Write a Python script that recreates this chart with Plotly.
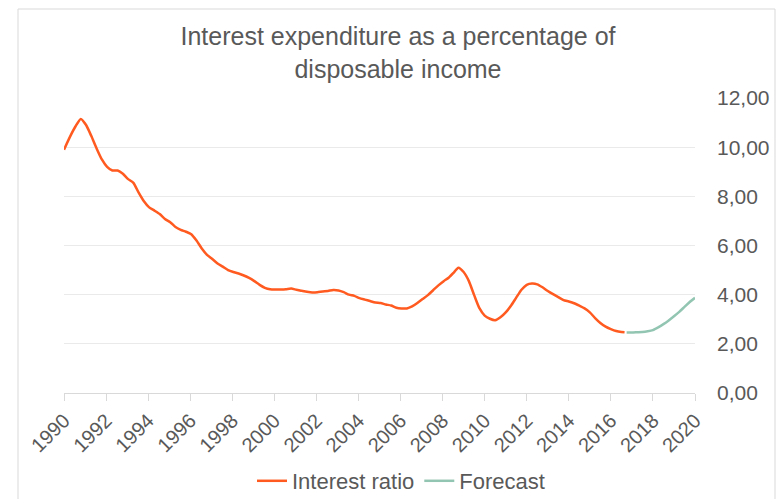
import plotly.graph_objects as go

years_hist = [1990.0, 1990.3, 1990.55, 1990.8, 1991.05, 1991.3, 1991.55, 1991.8, 1992.05, 1992.3,
              1992.55, 1992.8, 1993.05, 1993.3, 1993.55, 1993.8, 1994.05, 1994.3, 1994.55, 1994.8,
              1995.05, 1995.3, 1995.55, 1995.8, 1996.05, 1996.3, 1996.55, 1996.8, 1997.05, 1997.3,
              1997.55, 1997.8, 1998.05, 1998.3, 1998.55, 1998.8, 1999.05, 1999.3, 1999.55, 1999.8,
              2000.05, 2000.3, 2000.55, 2000.8, 2001.05, 2001.3, 2001.55, 2001.8, 2002.05, 2002.3,
              2002.55, 2002.8, 2003.05, 2003.3, 2003.55, 2003.8, 2004.05, 2004.3, 2004.55, 2004.8,
              2005.05, 2005.3, 2005.55, 2005.8, 2006.05, 2006.3, 2006.55, 2006.8, 2007.05, 2007.3,
              2007.55, 2007.8, 2008.05, 2008.3, 2008.55, 2008.75, 2009.0, 2009.25, 2009.5, 2009.75,
              2010.0, 2010.25, 2010.5, 2010.75, 2011.0, 2011.25, 2011.5, 2011.75, 2012.0, 2012.25,
              2012.5, 2012.75, 2013.0, 2013.25, 2013.5, 2013.75, 2014.0, 2014.25, 2014.5, 2014.75,
              2015.0, 2015.25, 2015.5, 2015.75, 2016.0, 2016.25, 2016.5, 2016.65]
interest_ratio = [9.9, 10.45, 10.85, 11.15, 10.9, 10.45, 9.95, 9.5, 9.2, 9.05,
                  9.05, 8.92, 8.7, 8.55, 8.15, 7.8, 7.55, 7.42, 7.28, 7.08,
                  6.95, 6.75, 6.64, 6.56, 6.46, 6.2, 5.88, 5.62, 5.45, 5.27,
                  5.14, 5.0, 4.92, 4.86, 4.78, 4.68, 4.55, 4.4, 4.28, 4.22,
                  4.21, 4.21, 4.22, 4.25, 4.2, 4.16, 4.12, 4.09, 4.1, 4.13,
                  4.15, 4.19, 4.17, 4.1, 4.0, 3.95, 3.86, 3.8, 3.74, 3.68,
                  3.66, 3.6, 3.56, 3.47, 3.44, 3.44, 3.52, 3.66, 3.82, 3.98,
                  4.18, 4.38, 4.55, 4.7, 4.92, 5.1, 4.92, 4.55, 3.98, 3.45,
                  3.15, 3.02, 2.96, 3.08, 3.28, 3.55, 3.88, 4.2, 4.4, 4.45,
                  4.42, 4.3, 4.15, 4.02, 3.9, 3.78, 3.72, 3.65, 3.55, 3.44,
                  3.28, 3.05, 2.85, 2.7, 2.6, 2.52, 2.48, 2.47]

years_fc = [2016.75, 2017.0, 2017.25, 2017.5, 2017.75, 2018.0, 2018.25, 2018.5, 2018.75,
            2019.0, 2019.25, 2019.5, 2019.75, 2020.0]
forecast = [2.46, 2.46, 2.47, 2.48, 2.51, 2.56, 2.67, 2.8, 2.95, 3.12, 3.3, 3.5, 3.7, 3.87]

title_text = "Interest expenditure as a percentage of<br>disposable income"

FONT = "Liberation Sans, Arial, sans-serif"
GREY = "#595959"

fig = go.Figure()
fig.add_trace(go.Scatter(x=years_hist, y=interest_ratio, mode="lines", name="Interest ratio",
                         line=dict(color="#FF5A1F", width=2.5, shape="spline", smoothing=0.6)))
fig.add_trace(go.Scatter(x=years_fc, y=forecast, mode="lines", name="Forecast",
                         line=dict(color="#93C6B2", width=2.5, shape="spline", smoothing=0.6)))

L, R, T, B = 64, 88, 98, 106
W, H = 783, 499
pw, ph = W - L - R, H - T - B

def px(xp):
    return (xp - L) / pw

def py(yp):
    return (H - B - yp) / ph

fig.update_layout(
    width=W, height=H,
    margin=dict(l=L, r=R, t=T, b=B, autoexpand=False),
    paper_bgcolor="white", plot_bgcolor="white",
    separators=",.",
    font=dict(family=FONT, color=GREY),
    title=dict(text=title_text, x=px(398), xref="paper", xanchor="center",
               y=1 - 45 / H, yanchor="middle",
               font=dict(size=25, color=GREY, family=FONT)),
    showlegend=True,
    legend=dict(orientation="h", x=px(401), xanchor="center", y=py(481), yanchor="middle",
                font=dict(size=22, color=GREY, family=FONT), itemwidth=30,
                bgcolor="rgba(0,0,0,0)"),
    xaxis=dict(range=[1990, 2020], tick0=1990, dtick=2, tickangle=-45, automargin=False,
               showgrid=False, zeroline=False, showline=True, linecolor="#D9D9D9", linewidth=1,
               ticks="outside", ticklen=7, tickcolor="#D9D9D9",
               tickfont=dict(size=20, color=GREY, family=FONT)),
    yaxis=dict(range=[0, 12], dtick=2, side="right", tickformat=".2f", automargin=False,
               showgrid=True, gridcolor="#EAEAEA", gridwidth=1, zeroline=False, showline=False,
               ticks="", ticklabelstandoff=21,
               tickfont=dict(size=21, color=GREY, family=FONT)),
    shapes=[dict(type="rect", xref="paper", yref="paper",
                 x0=px(18), x1=px(775), y0=py(510), y1=py(9),
                 line=dict(color="#D9D9D9", width=1), fillcolor="rgba(0,0,0,0)", layer="below")],
)

fig.write_html("out.html", config={"displayModeBar": False},
               post_script="document.body.style.margin='0';")
